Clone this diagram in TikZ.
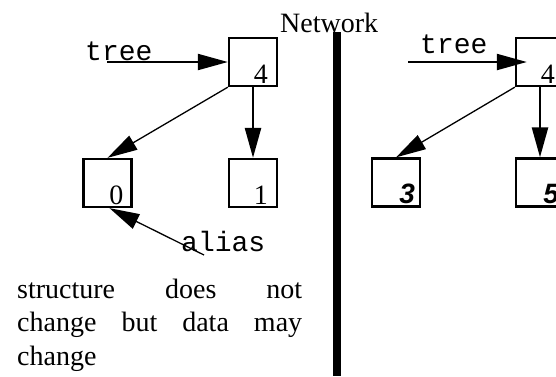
\documentclass[tikz,border=0pt]{standalone}
\usepackage{fontspec}
\setmainfont{Liberation Serif}
\setmonofont{Liberation Mono}
\newfontfamily\helv{Liberation Sans}
\usetikzlibrary{arrows.meta}
\usetikzlibrary{positioning}

\begin{document}
\begin{tikzpicture}
	[x=1pt, y=-1pt,
	> = {Triangle[length=30pt,width=16pt]},
	every node/.style={inner sep=0pt},
	cell/.style = {draw, line width=2.3pt, minimum size=48pt},
	num/.style = {font=\fontsize{28}{33}\selectfont},
	bnum/.style = {font=\fontsize{28}{33}\helv\bfseries\itshape},
	code/.style = {font=\fontsize{28}{33}\ttfamily, anchor=base west},
	link/.style = {->, line width=1.3pt},
	stem/.style = {->, line width=2.5pt}
	]
	\useasboundingbox (0,0) rectangle (556,376);

	% left: the tree and the alias
	\node[cell] (root) at (253,62) {};
	\node[cell] (kid0) at (107.5,183) {};
	\node[cell] (kid1) at (253,183) {};
	\node[num, above left=3pt and 10pt of root.south east] (root n) {4};
	\node[num, above left=3pt and 9pt of kid0.south east] (kid0 n) {0};
	\node[num, above left=3pt and 10pt of kid1.south east] (kid1 n) {1};

	\coordinate (treeA) at (107,62);
	\coordinate (aliasA) at (204,255);
	\node[code] (tree lbl) at (85,60) {tree};
	\node[code] (alias lbl) at (181,251) {alias};

	\draw[stem, line width=2pt] (treeA) -- (root.west);
	\draw[link] (root.south west) -- (kid0.north);
	\draw[stem] (root.south) -- (kid1.north);
	\draw[link] (aliasA) -- ([xshift=2pt]kid0.south);

	\node[anchor=base west] (note) at (17,298) {\parbox[t]{285pt}{\fontsize{28}{33.5}\selectfont
		structure does not\linebreak change but data may\linebreak change}};

	% the dividing line
	\node[anchor=base west, num] (net) at (280,32) {Network};
	\draw[line width=8pt] (337,32) -- (337,376);

	% right: same shape, new data
	\node[cell] (rroot) at (540,62) {};
	\node[cell] (kid3) at (396,182.5) {};
	\node[cell] (kid5) at (540,182.5) {};
	\node[num, above left=3pt and 10pt of rroot.south east] (rroot n) {4};
	\node[bnum, above left=4pt and 6pt of kid3.south east] (kid3 n) {3};
	\node[bnum, above left=4pt and 6pt of kid5.south east] (kid5 n) {5};

	\coordinate (treeB) at (408,62);
	\node[code] (rtree lbl) at (420,53) {tree};

	\draw[stem, line width=2pt] (treeB) -- ([xshift=12pt]rroot.west);
	\draw[link] (rroot.south west) -- (kid3.north);
	\draw[stem] (rroot.south) -- (kid5.north);
\end{tikzpicture}
\end{document}
